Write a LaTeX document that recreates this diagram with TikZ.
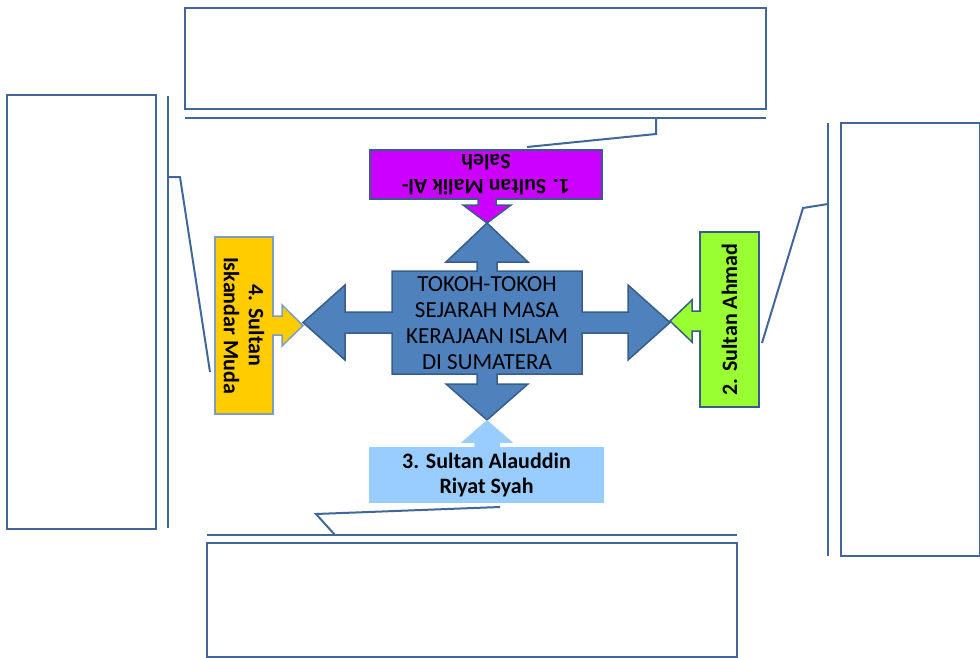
\documentclass[tikz,border=0pt]{standalone}
\usepackage{fontspec}
\setmainfont{Carlito}
\definecolor{linecol}{HTML}{41679A}
\definecolor{arrowblue}{HTML}{4F81BD}
\definecolor{arrowedge}{HTML}{385D8A}
\definecolor{malikcol}{HTML}{CC00FF}
\definecolor{ahmadcol}{HTML}{99FF33}
\definecolor{alauddincol}{HTML}{99CCFF}
\definecolor{iskandarcol}{HTML}{FFCC00}
\definecolor{softedge}{HTML}{7F9CC4}

\begin{document}
\begin{tikzpicture}[x=1pt, y=-1pt, line join=miter,
	notebox/.style={draw=linecol, line width=2pt, inner sep=0pt, outer sep=0pt},
	sultanbox/.style={draw=arrowedge, line width=1.5pt, inner sep=0pt, outer sep=0pt,
		align=center, text=black, font=\fontsize{22}{25}\selectfont\bfseries},
	pointer/.style={draw=arrowedge, line width=1.5pt},
	callout/.style={draw=linecol, line width=2pt}]
	\useasboundingbox (0,0) rectangle (980,658);

	% empty note boxes and their rules
	\node[notebox, minimum width=581pt, minimum height=101pt] (topbox) at (475.5,58.5) {};
	\node[notebox, minimum width=149pt, minimum height=434pt] (leftbox) at (81.5,312) {};
	\node[notebox, minimum width=139pt, minimum height=433pt] (rightbox) at (910.5,339.5) {};
	\node[notebox, minimum width=530pt, minimum height=114pt] (bottombox) at (472,600) {};
	\coordinate (topruleA) at (185,118);
	\coordinate (topruleB) at (766,118);
	\coordinate (leftruleA) at (168,96);
	\coordinate (leftruleB) at (168,528);
	\coordinate (rightruleA) at (828,123);
	\coordinate (rightruleB) at (828,556);
	\coordinate (bottomruleA) at (207,535);
	\coordinate (bottomruleB) at (737,535);
	\draw[callout] (topruleA) -- (topruleB);
	\draw[callout] (leftruleA) -- (leftruleB);
	\draw[callout] (rightruleA) -- (rightruleB);
	\draw[callout] (bottomruleA) -- (bottomruleB);

	% four-way arrow
	\draw[pointer, fill=arrowblue] (487,223) -- (528,262) -- (497,262) -- (497,271) -- (582,271)
		-- (582,312) -- (628,312) -- (628,285) -- (670,322.5) -- (628,360) -- (628,333) -- (582,333)
		-- (582,374) -- (497,374) -- (497,384) -- (528,384) -- (487,420) -- (446,384) -- (477,384)
		-- (477,374) -- (392,374) -- (392,333) -- (345,333) -- (345,360) -- (303,322.5) -- (345,285)
		-- (345,312) -- (392,312) -- (392,271) -- (477,271) -- (477,262) -- (446,262) -- cycle;
	\node[align=center, text=black, font=\fontsize{23}{26}\selectfont] (pusat) at (487,323)
		{TOKOH-TOKOH\\SEJARAH MASA\\KERAJAAN ISLAM\\DI SUMATERA};

	% sultans
	\node[sultanbox, fill=malikcol, rotate=180, minimum width=232pt, minimum height=49pt] (malik)
		at (486,174.5) {1. Sultan Malik Al-\\Saleh};
	\node[sultanbox, fill=ahmadcol, rotate=90, minimum width=175pt, minimum height=59pt] (ahmad)
		at (729.5,319.5) {2. Sultan Ahmad};
	\node[sultanbox, fill=alauddincol, draw=alauddincol, minimum width=233pt, minimum height=54pt] (alauddin)
		at (486.5,475) {3. Sultan Alauddin\\Riyat Syah};
	\node[sultanbox, fill=iskandarcol, draw=softedge, rotate=-90, minimum width=177pt, minimum height=58pt] (iskandar)
		at (244,325.5) {4. Sultan\\Iskandar Muda};

	\draw[pointer, fill=malikcol] (478,198) -- (478,205) -- (463,205) -- (487,223) -- (511,205) -- (496,205) -- (496,198);
	\draw[pointer, draw=alauddincol, fill=alauddincol] (475,449) -- (475,442) -- (463,442) -- (487,421) -- (511,442) -- (499,442) -- (499,449);
	\draw[pointer, fill=ahmadcol] (701,311) -- (692,311) -- (692,300) -- (670,321) -- (692,342) -- (692,331) -- (701,331);
	\draw[pointer, draw=softedge, fill=iskandarcol] (272,316) -- (282,316) -- (282,305) -- (303,325.5) -- (282,346) -- (282,335) -- (272,335);

	% callouts
	\coordinate (topbend) at (656,134);
	\coordinate (topfoot) at (656,118);
	\coordinate (topend) at (527,147);
	\draw[callout] (topfoot) -- (topbend) -- (topend);
	\coordinate (leftfoot) at (168,177);
	\coordinate (leftbend) at (180,177);
	\coordinate (leftend) at (210,372);
	\draw[callout] (leftfoot) -- (leftbend) -- (leftend);
	\coordinate (rightfoot) at (828,204);
	\coordinate (rightbend) at (803,208);
	\coordinate (rightend) at (762,343);
	\draw[callout] (rightfoot) -- (rightbend) -- (rightend);
	\coordinate (bottomfoot) at (335,535);
	\coordinate (bottombend) at (316,514);
	\coordinate (bottomend) at (500,507);
	\draw[callout] (bottomfoot) -- (bottombend) -- (bottomend);
\end{tikzpicture}
\end{document}
